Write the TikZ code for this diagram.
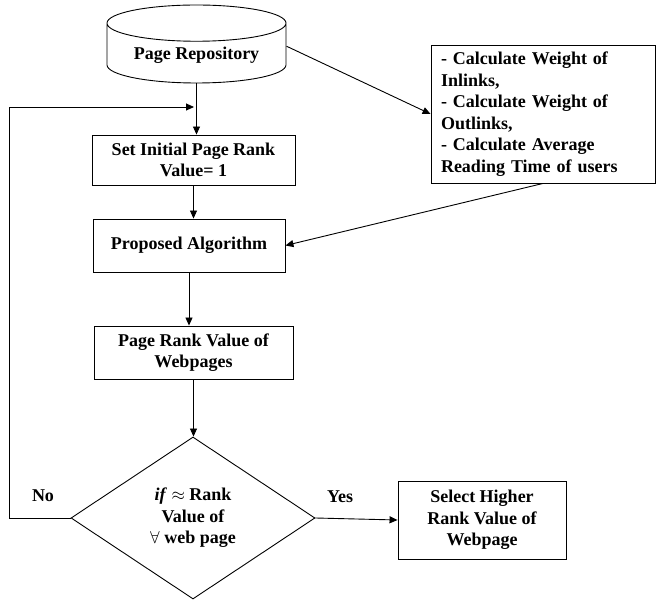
\documentclass[tikz,border=0pt]{standalone}
\usepackage{fontspec}
\setmainfont{Liberation Serif}
\usepackage{amsmath}
\usepackage{amssymb}
\usetikzlibrary{arrows.meta, shapes.geometric}
\usetikzlibrary{positioning}

\tikzset{
	flowbox/.style={draw, line width=0.9pt, align=center, inner sep=2pt},
	flowline/.style={line width=0.9pt, -{Triangle[length=8pt,width=7pt]}}
}

\begin{document}
\begin{tikzpicture}[x=1pt, y=1pt, font=\fontsize{18}{21.5}\selectfont\bfseries]
		\useasboundingbox (0,0) rectangle (656,600);
		% main column
		\node[flowbox, cylinder, shape border rotate=90, aspect=0.28, minimum width=179pt, minimum height=78pt, anchor=shape center] (repo) at (196.5,556) {Page Repository};
		\node[flowbox, minimum width=203pt, minimum height=50pt] (init) at (193.5,440) {Set Initial Page Rank\\Value= 1};
		\node[flowbox, minimum width=192pt, minimum height=53pt] (algo) at (189,354.5) {Proposed Algorithm};
		\node[flowbox, minimum width=199pt, minimum height=53pt] (rank) at (193.5,247.5) {Page Rank Value of\\Webpages};
		\node[flowbox, diamond, aspect=1.5, inner sep=0pt, minimum width=244pt, minimum height=162pt] (cond) at (193,82) {\textit{if} $\approx$ Rank\\Value of\\$\forall$ web page};
		
		% side boxes
		\node[flowbox, align=left, text width=204pt, minimum height=138pt, inner xsep=10pt, inner ysep=4pt] (weights) at (543,486) {- Calculate Weight of\\Inlinks,\\- Calculate Weight of\\Outlinks,\\- Calculate Average\\Reading Time of users};
		\node[flowbox, minimum width=168pt, minimum height=78pt] (select) at (482,80) {Select Higher\\Rank Value of\\Webpage};
		
		% connectors
		\coordinate (loopin) at (194,493);
		\coordinate (back) at (9,493);
		\draw[flowline] (repo.south) -- (repo.south |- init.north);
		\draw[flowline] (init.south) -- (init.south |- algo.north);
		\draw[flowline] (algo.south) -- (algo.south |- rank.north);
		\draw[flowline] (rank.south) -- (rank.south |- cond.north);
		\draw[flowline] ([yshift=9pt]repo.east) -- (weights.west);
		\draw[flowline] (weights.south) -- (algo.east);
		\draw[flowline] (cond.west) -| (back) -- (loopin);
		\draw[flowline] (cond.east) -- (select.west) node[pos=0.3, above=12pt] (yes) {Yes};
		\node (no) at (43,104) {No};
	\end{tikzpicture}
\end{document}
